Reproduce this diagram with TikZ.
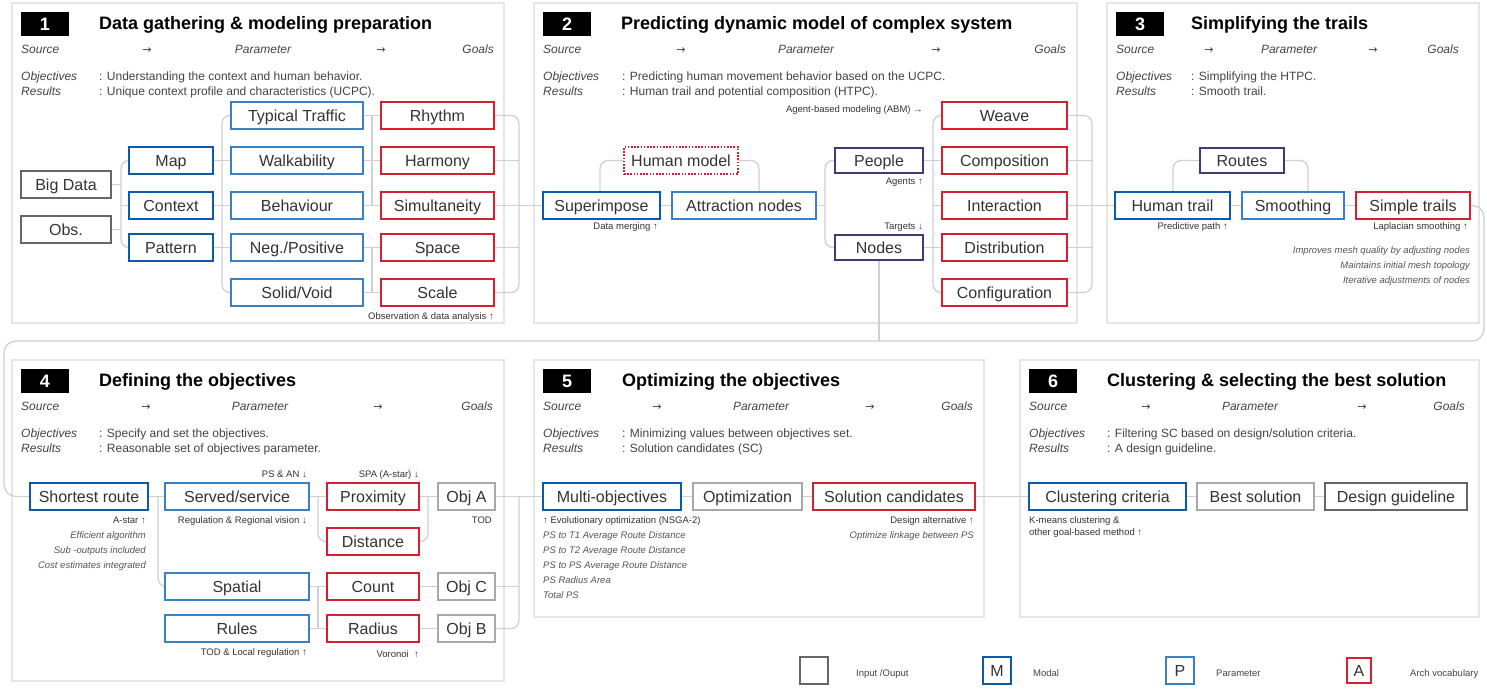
\documentclass[tikz,border=0pt]{standalone}
\usepackage{fontspec}
\setmainfont{Liberation Sans}
\newfontfamily\arrowfont{DejaVu Sans}
\usetikzlibrary{backgrounds}
\definecolor{modalblue}{RGB}{12,90,170}
\definecolor{parblue}{RGB}{58,128,196}
\definecolor{archred}{RGB}{212,32,48}
\definecolor{navy}{RGB}{62,60,120}
\definecolor{iogray}{RGB}{102,102,102}
\definecolor{objgray}{RGB}{168,168,168}
\definecolor{conncol}{RGB}{208,208,208}
\definecolor{panelcol}{RGB}{230,230,230}
\definecolor{txt}{RGB}{51,51,51}
\definecolor{subtxt}{RGB}{68,68,68}
\definecolor{notetxt}{RGB}{85,85,85}
\newcommand\bxfont{\fontsize{16}{19}\selectfont}
\newcommand\ttlfont{\fontsize{18}{21}\selectfont\bfseries}
\newcommand\srcfont{\fontsize{12}{14}\selectfont}
\newcommand\smlfont{\fontsize{9.5}{11}\selectfont}
\newcommand\mybox[7]{\node[#2, minimum width={(#5-#3)*1pt}, minimum height={(#6-#4)*1pt}] (#1) at ({(#3+#5)/2},{(#4+#6)/2}) {#7};}
\newcommand\numtitle[6]{%
 \node[numbox] (#1num) at ({#2+24},{#3+24}) {#4};
 \node[ttl, anchor=mid west] (#1title) at ({#5},{#3+24}) {#6};}
\newcommand\srcrow[7]{%
 \node[src, anchor=mid west] (#1src) at ({#2},{#3+49}) {\itshape Source};
 \node[src, anchor=mid] (#1ara) at ({#4},{#3+49}) {\arrowfont\fontsize{11}{13}\selectfont →};
 \node[src, anchor=mid] (#1par) at ({#5},{#3+49}) {\itshape Parameter};
 \node[src, anchor=mid] (#1arb) at ({#6},{#3+49}) {\arrowfont\fontsize{11}{13}\selectfont →};
 \node[src, anchor=mid east] (#1goal) at ({#7},{#3+49}) {\itshape Goals};}
\newcommand\objrow[6]{%
 \node[src, anchor=mid west] (#1objl) at ({#2},{#3+76}) {\itshape Objectives};
 \node[src, anchor=mid west] (#1resl) at ({#2},{#3+91}) {\itshape Results};
 \node[src, anchor=mid west] (#1obj) at ({#4},{#3+76}) {: #5};
 \node[src, anchor=mid west] (#1res) at ({#4},{#3+91}) {: #6};}
\begin{document}
\begin{tikzpicture}[x=1pt,y=-1pt,
 box/.style={draw, inner sep=0pt, outer sep=0pt, font=\bxfont, text=txt, text height=11.5pt, text depth=0pt, fill=white},
 io/.style={box, draw=iogray, line width=2pt},
 modal/.style={box, draw=modalblue, line width=2.6pt},
 param/.style={box, draw=parblue, line width=2pt},
 arch/.style={box, draw=archred, line width=1.8pt},
 agent/.style={box, draw=navy, line width=1.8pt},
 objbox/.style={box, draw=objgray, line width=2pt},
 humanbox/.style={box, draw=archred, line width=1.6pt, dash pattern=on 1.6pt off 1.6pt},
 numbox/.style={fill=black, text=white, font=\ttlfont, minimum width=48pt, minimum height=24pt, inner sep=0pt},
 ttl/.style={font=\ttlfont, text=black, inner sep=0pt, yshift=-3pt},
 src/.style={font=\srcfont, text=subtxt, inner sep=0pt, yshift=-2pt},
 lbl/.style={font=\smlfont, text=txt, inner sep=0pt, yshift=-1.5pt},
 note/.style={font=\smlfont\itshape, text=notetxt, inner sep=0pt, yshift=-1.5pt},
 panel/.style={draw=panelcol, line width=1.5pt},
 conn/.style={draw=conncol, line width=1.3pt},
 bus/.style={conn, rounded corners=8pt},
 bigloop/.style={conn, rounded corners=12pt}]
\useasboundingbox (0,0) rectangle (1487,689);

% ---------- headers
\numtitle{pa}{21}{0}{1}{99}{Data gathering \& modeling preparation}
\srcrow{pa}{21}{0}{147}{263}{381}{494}
\objrow{pa}{21}{0}{99}{Understanding the context and human behavior.}{Unique context profile and characteristics (UCPC).}
\numtitle{pb}{543}{0}{2}{621}{Predicting dynamic model of complex system}
\srcrow{pb}{543}{0}{681}{806}{936}{1066}
\objrow{pb}{543}{0}{622}{Predicting human movement behavior based on the UCPC.}{Human trail and potential composition (HTPC).}
\numtitle{pc}{1116}{0}{3}{1191}{Simplifying the trails}
\srcrow{pc}{1116}{0}{1209}{1289}{1373}{1459}
\objrow{pc}{1116}{0}{1191}{Simplifying the HTPC.}{Smooth trail.}
\numtitle{pd}{21}{357}{4}{99}{Defining the objectives}
\srcrow{pd}{21}{357}{146}{260}{378}{493}
\objrow{pd}{21}{357}{99}{Specify and set the objectives.}{Reasonable set of objectives parameter.}
\numtitle{pe}{543}{357}{5}{622}{Optimizing the objectives}
\srcrow{pe}{543}{357}{657}{761}{870}{973}
\objrow{pe}{543}{357}{622}{Minimizing values between objectives set.}{Solution candidates (SC)}
\numtitle{pf}{1029}{357}{6}{1107}{Clustering \& selecting the best solution}
\srcrow{pf}{1029}{357}{1146}{1250}{1362}{1465}
\objrow{pf}{1029}{357}{1107}{Filtering SC based on design/solution criteria.}{A design guideline.}

% ---------- panel 1 boxes
\mybox{bigdata}{io}{21}{171}{111}{198}{Big Data}
\mybox{obs}{io}{21}{216}{111}{243}{Obs.}
\mybox{map}{modal}{129}{147}{213}{174}{Map}
\mybox{context}{modal}{129}{192}{213}{219}{Context}
\mybox{pattern}{modal}{129}{234}{213}{261}{Pattern}
\mybox{tt}{param}{231}{102}{363}{129}{Typical Traffic}
\mybox{walk}{param}{231}{147}{363}{174}{Walkability}
\mybox{beh}{param}{231}{192}{363}{219}{Behaviour}
\mybox{neg}{param}{231}{234}{363}{261}{Neg./Positive}
\mybox{sv}{param}{231}{279}{363}{306}{Solid/Void}
\mybox{rhythm}{arch}{381}{102}{494}{129}{Rhythm}
\mybox{harmony}{arch}{381}{147}{494}{174}{Harmony}
\mybox{simul}{arch}{381}{192}{494}{219}{Simultaneity}
\mybox{space}{arch}{381}{234}{494}{261}{Space}
\mybox{scale}{arch}{381}{279}{494}{306}{Scale}
\node[lbl, anchor=mid east] (l1) at (494,315) {Observation \& data analysis ↑};

% ---------- panel 2 boxes
\mybox{superimpose}{modal}{543}{192}{660}{219}{Superimpose}
\mybox{attraction}{param}{672}{192}{816}{219}{Attraction nodes}
\mybox{human}{humanbox}{624}{147}{738}{174}{Human model}
\mybox{people}{agent}{835}{148}{923}{173}{People}
\mybox{nodes}{agent}{835}{235}{923}{260}{Nodes}
\mybox{weave}{arch}{942}{102}{1067}{129}{Weave}
\mybox{composition}{arch}{942}{147}{1067}{174}{Composition}
\mybox{interaction}{arch}{942}{192}{1067}{219}{Interaction}
\mybox{distribution}{arch}{942}{234}{1067}{261}{Distribution}
\mybox{config}{arch}{942}{279}{1067}{306}{Configuration}
\node[lbl, anchor=mid east] (l2) at (923,108) {Agent-based modeling (ABM) →};
\node[lbl, anchor=mid east] (l3) at (658,225) {Data merging ↑};
\node[lbl, anchor=mid east] (l4) at (923,180) {Agents ↑};
\node[lbl, anchor=mid east] (l5) at (923,225) {Targets ↓};

% ---------- panel 3 boxes
\mybox{routes}{agent}{1200}{148}{1284}{173}{Routes}
\mybox{humantrail}{modal}{1115}{192}{1230}{219}{Human trail}
\mybox{smoothing}{param}{1242}{192}{1344}{219}{Smoothing}
\mybox{simple}{arch}{1356}{192}{1470}{219}{Simple trails}
\node[lbl, anchor=mid east] (l6) at (1228,225) {Predictive path ↑};
\node[lbl, anchor=mid east] (l7) at (1468,225) {Laplacian smoothing ↑};
\node[note, anchor=mid east] (n1) at (1470,249) {Improves mesh quality by adjusting nodes};
\node[note, anchor=mid east] (n2) at (1470,264) {Maintains initial mesh topology};
\node[note, anchor=mid east] (n3) at (1470,279) {Iterative adjustments of nodes};

% ---------- panel 4 boxes
\mybox{shortest}{modal}{30}{483}{148}{510}{Shortest route}
\mybox{served}{param}{165}{483}{309}{510}{Served/service}
\mybox{proximity}{arch}{327}{483}{419}{510}{Proximity}
\mybox{obja}{objbox}{438}{483}{495}{510}{Obj A}
\mybox{distance}{arch}{327}{528}{419}{555}{Distance}
\mybox{spatial}{param}{165}{573}{309}{600}{Spatial}
\mybox{count}{arch}{327}{573}{419}{600}{Count}
\mybox{objc}{objbox}{438}{573}{495}{600}{Obj C}
\mybox{rules}{param}{165}{615}{309}{642}{Rules}
\mybox{radius}{arch}{327}{615}{419}{642}{Radius}
\mybox{objb}{objbox}{438}{615}{495}{642}{Obj B}
\node[lbl, anchor=mid east] (l8) at (307,473) {PS \& AN ↓};
\node[lbl, anchor=mid east] (l9) at (419,473) {SPA (A-star) ↓};
\node[lbl, anchor=mid east] (l10) at (146,519) {A-star ↑};
\node[note, anchor=mid east] (n4) at (146,534) {Efficient algorithm};
\node[note, anchor=mid east] (n5) at (146,549) {Sub -outputs included};
\node[note, anchor=mid east] (n6) at (146,564) {Cost estimates integrated};
\node[lbl, anchor=mid east] (l11) at (307,519) {Regulation \& Regional vision ↓};
\node[lbl, anchor=mid east] (l12) at (492,519) {TOD};
\node[lbl, anchor=mid east] (l13) at (307,651) {TOD \& Local regulation ↑};
\node[lbl, anchor=mid east] (l14) at (419,653) {Voronoi \ ↑};

% ---------- panel 5 boxes
\mybox{multi}{modal}{543}{483}{681}{510}{Multi-objectives}
\mybox{optim}{objbox}{693}{483}{802}{510}{Optimization}
\mybox{solution}{arch}{813}{483}{975}{510}{Solution candidates}
\node[lbl, anchor=mid west] (l15) at (543,519) {↑ Evolutionary optimization (NSGA-2)};
\node[note, anchor=mid west] (n7) at (543,534) {PS to T1 Average Route Distance};
\node[note, anchor=mid west] (n8) at (543,549) {PS to T2 Average Route Distance};
\node[note, anchor=mid west] (n9) at (543,564) {PS to PS Average Route Distance};
\node[note, anchor=mid west] (n10) at (543,579) {PS Radius Area};
\node[note, anchor=mid west] (n11) at (543,594) {Total PS};
\node[lbl, anchor=mid east] (l16) at (974,519) {Design alternative ↑};
\node[note, anchor=mid east] (n12) at (974,534) {Optimize linkage between PS};

% ---------- panel 6 boxes
\mybox{cluster}{modal}{1029}{483}{1186}{510}{Clustering criteria}
\mybox{best}{objbox}{1197}{483}{1314}{510}{Best solution}
\mybox{guide}{io}{1325}{483}{1467}{510}{Design guideline}
\node[lbl, anchor=mid west] (l17) at (1029,519) {K-means clustering \&};
\node[lbl, anchor=mid west] (l18) at (1029,531) {other goal-based method ↑};

% ---------- legend
\mybox{lgio}{io}{800}{657}{828}{684}{}
\mybox{lgm}{modal}{983}{657}{1011}{684}{M}
\mybox{lgp}{param}{1166}{657}{1194}{684}{P}
\mybox{lga}{arch}{1347}{658}{1371}{683}{A}
\node[lbl, text=subtxt, anchor=mid west] (lt1) at (856,672) {Input /Ouput};
\node[lbl, text=subtxt, anchor=mid west] (lt2) at (1033,672) {Modal};
\node[lbl, text=subtxt, anchor=mid west] (lt3) at (1216,672) {Parameter};
\node[lbl, text=subtxt, anchor=mid west] (lt4) at (1410,672) {Arch vocabulary};

% ---------- bus coordinates
\coordinate (b1) at (121,0);
\coordinate (b2) at (222,0);
\coordinate (b3) at (372,0);
\coordinate (b4) at (519,0);
\coordinate (h1) at (600,0);
\coordinate (h2) at (759,0);
\coordinate (b5) at (825,0);
\coordinate (b6) at (933,0);
\coordinate (b7) at (1092,0);
\coordinate (h3) at (1173,0);
\coordinate (h4) at (1308,0);
\coordinate (cR) at (1484,341);
\coordinate (cL) at (4,341);
\coordinate (b8) at (158,0);
\coordinate (b9) at (318,0);
\coordinate (b10) at (428,0);
\coordinate (b11) at (519,0);

\begin{pgfonlayer}{background}
\fill[white] (0,0) rectangle (1487,689);
\draw[panel] (12,3) rectangle (504,323);
\draw[panel] (534,3) rectangle (1077,323);
\draw[panel] (1107,3) rectangle (1479,323);
\draw[panel] (12,360) rectangle (504,681);
\draw[panel] (534,360) rectangle (984,617);
\draw[panel] (1020,360) rectangle (1479,617);
% panel 1
\draw[conn] (bigdata.east) -- (bigdata.east -| b1);
\draw[conn] (obs.east) -- (obs.east -| b1);
\draw[bus] (map.west) -| (b1 |- context.west) |- (pattern.west);
\draw[conn] (context.west) -- (context.west -| b1);
\draw[conn] (map.east) -- (walk.west);
\draw[conn] (context.east) -- (beh.west);
\draw[conn] (pattern.east) -- (neg.west);
\draw[bus] (tt.west) -| (b2 |- beh.west) |- (sv.west);
\draw[conn] (tt.east) -- (rhythm.west);
\draw[conn] (walk.east) -- (harmony.west);
\draw[conn] (beh.east) -- (simul.west);
\draw[conn] (neg.east) -- (space.west);
\draw[conn] (sv.east) -- (scale.west);
\draw[conn] (b3 |- tt.east) -- (b3 |- beh.east);
\draw[conn] (b3 |- neg.east) -- (b3 |- sv.east);
\draw[bus] (rhythm.east) -| (b4 |- simul.east) |- (scale.east);
\draw[conn] (harmony.east) -- (harmony.east -| b4);
\draw[conn] (space.east) -- (space.east -| b4);
\draw[conn] (simul.east) -- (superimpose.west);
% panel 2
\draw[bus] (h1 |- superimpose.north) |- (human.west);
\draw[bus] (human.east) -| (h2 |- attraction.north);
\draw[conn] (superimpose.east) -- (attraction.west);
\draw[conn] (attraction.east) -- (attraction.east -| b5);
\draw[bus] (people.west) -| (b5 |- attraction.east) |- (nodes.west);
\draw[bus] (weave.west) -| (b6 |- interaction.west) |- (config.west);
\draw[conn] (people.east) -- (composition.west);
\draw[conn] (interaction.west) -- (interaction.west -| b6);
\draw[conn] (nodes.east) -- (distribution.west);
\draw[bus] (weave.east) -| (b7 |- interaction.east) |- (config.east);
\draw[conn] (composition.east) -- (composition.east -| b7);
\draw[conn] (distribution.east) -- (distribution.east -| b7);
\draw[conn] (interaction.east) -- (humantrail.west);
\draw[conn] (nodes.south) -- (nodes.south |- cR);
% panel 3
\draw[bus] (h3 |- humantrail.north) |- (routes.west);
\draw[bus] (routes.east) -| (h4 |- smoothing.north);
\draw[conn] (humantrail.east) -- (smoothing.west);
\draw[conn] (smoothing.east) -- (simple.west);
\draw[bigloop] (simple.east) -| (cR) -| (cL |- shortest.west) -- (shortest.west);
% panel 4
\draw[conn] (shortest.east) -- (served.west);
\draw[bus] (b8 |- shortest.east) |- (spatial.west);
\draw[conn] (served.east) -- (proximity.west);
\draw[bus] (b9 |- served.east) |- (distance.west);
\draw[conn] (proximity.east) -- (obja.west);
\draw[bus] (b10 |- proximity.east) |- (distance.east);
\draw[conn] (spatial.east) -- (count.west);
\draw[conn] (rules.east) -- (radius.west);
\draw[conn] (b9 |- spatial.east) -- (b9 |- rules.east);
\draw[conn] (count.east) -- (objc.west);
\draw[conn] (radius.east) -- (objb.west);
\draw[conn] (obja.east) -- (multi.west);
\draw[bus] (b11 |- obja.east) |- (objb.east);
\draw[conn] (objc.east) -- (objc.east -| b11);
% panels 5, 6
\draw[conn] (multi.east) -- (optim.west);
\draw[conn] (optim.east) -- (solution.west);
\draw[conn] (solution.east) -- (cluster.west);
\draw[conn] (cluster.east) -- (best.west);
\draw[conn] (best.east) -- (guide.west);
\end{pgfonlayer}
\end{tikzpicture}
\end{document}
